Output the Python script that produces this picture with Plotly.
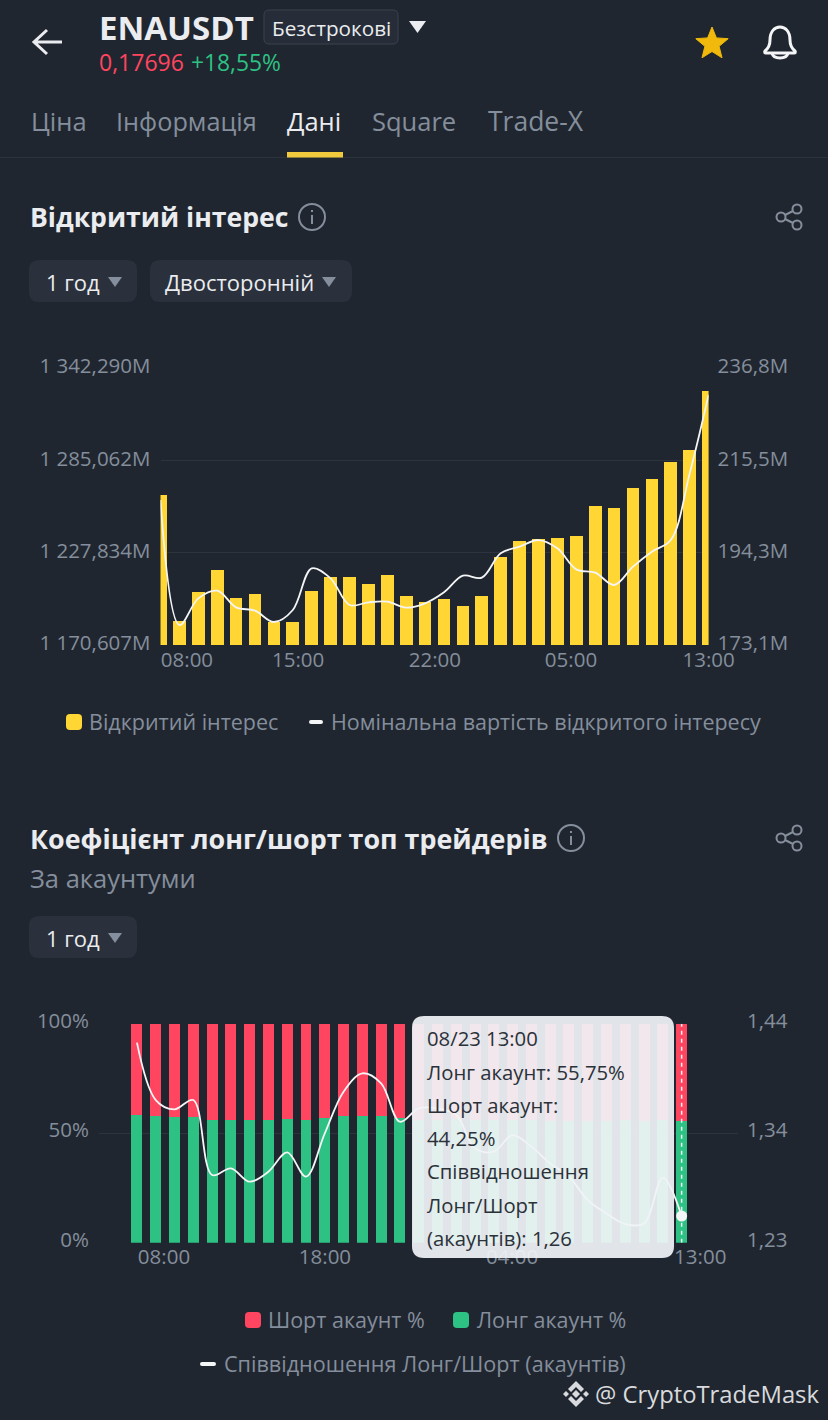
import math
import numpy as np
import plotly.graph_objects as go

BG = '#20262F'
GRID = '#2E343E'
GRAY = '#848E9C'
WHITE = '#EAECEF'
YELLOW = '#FFD633'
RED = '#FF4560'
GREEN = '#2DC184'
FONT = 'Open Sans'

# --- open interest chart
oi_values = [1263.37, 1185.48, 1203.25, 1216.88, 1199.94, 1202.01, 1185.07, 1185.07, 1204.28, 1212.96,
             1212.96, 1208.41, 1213.79, 1200.98, 1197.47, 1198.91, 1194.99, 1201.18, 1225.36, 1234.86,
             1236.31, 1237.13, 1238.37, 1256.76, 1255.31, 1267.71, 1273.29, 1283.82, 1291.68, 1328.04]
oi_notional = [206.44, 177.70, 183.83, 185.59, 181.76, 180.99, 178.39, 181.15, 190.73, 188.43,
               182.30, 182.91, 183.06, 181.68, 182.68, 185.21, 189.04, 188.58, 194.18, 195.71,
               197.24, 195.33, 190.50, 189.73, 186.90, 191.11, 194.56, 197.24, 212.57, 230.59]
oi_left_ticks = [1170.607, 1227.834, 1285.062, 1342.290]
oi_left_labels = ['1 170,607M', '1 227,834M', '1 285,062M', '1 342,290M']
oi_right_ticks = [173.1, 194.3, 215.5, 236.8]
oi_right_labels = ['173,1M', '194,3M', '215,5M', '236,8M']
oi_time_labels = ['08:00', '15:00', '22:00', '05:00', '13:00']

# --- long/short chart
long_pct = [58.3, 57.7, 57.4, 57.5, 56.2, 56.2, 56.2, 56.2, 56.5, 56.2,
            56.9, 57.7, 57.8, 57.8, 57.1, 56.0, 56.2, 56.3, 56.1, 56.0,
            56.0, 55.9, 55.8, 55.8, 55.7, 55.8, 55.9, 55.8, 55.9, 55.75]
short_pct = [41.7, 42.3, 42.6, 42.5, 43.8, 43.8, 43.8, 43.8, 43.5, 43.8,
             43.1, 42.3, 42.2, 42.2, 42.9, 44.0, 43.8, 43.7, 43.9, 44.0,
             44.0, 44.1, 44.2, 44.2, 44.3, 44.2, 44.1, 44.2, 44.1, 44.25]
ls_ratio = [1.4218, 1.3668, 1.3579, 1.3668, 1.2949, 1.3013, 1.2885, 1.2981, 1.3166, 1.2933,
            1.3348, 1.3748, 1.3924, 1.3828, 1.3460, 1.3588, 1.3588, 1.3524, 1.3205, 1.3173,
            1.3332, 1.3221, 1.3061, 1.2933, 1.2709, 1.2581, 1.2479, 1.2485, 1.2923, 1.2556]
ls_left_ticks = [0, 50, 100]
ls_left_labels = ['0%', '50%', '100%']
ls_right_ticks = [1.23, 1.335, 1.44]
ls_right_labels = ['1,23', '1,34', '1,44']
ls_time_labels = ['08:00', '18:00', '04:00', '13:00']

W, H = 828, 1420


def dom_x(a, b):
    return [a / W, b / W]


def dom_y(top, bottom):
    return [1 - bottom / H, 1 - top / H]


fig = go.Figure()
x1 = np.arange(len(oi_values))
x2 = np.arange(len(long_pct))

fig.add_trace(go.Bar(x=x1, y=oi_values, width=0.67, marker=dict(color=YELLOW, line_width=0),
                     xaxis='x', yaxis='y', name='Відкритий інтерес'))
fig.add_trace(go.Scatter(x=x1, y=oi_notional, mode='lines', xaxis='x', yaxis='y4',
                         line=dict(color='#F4F5F6', width=1.8, shape='spline', smoothing=1),
                         name='Номінальна вартість відкритого інтересу'))
fig.add_trace(go.Bar(x=x2, y=long_pct, width=0.585, marker=dict(color=GREEN, line_width=0),
                     xaxis='x2', yaxis='y2', name='Лонг акаунт %'))
fig.add_trace(go.Bar(x=x2, y=short_pct, width=0.585, marker=dict(color=RED, line_width=0),
                     xaxis='x2', yaxis='y2', name='Шорт акаунт %'))
fig.add_trace(go.Scatter(x=x2, y=ls_ratio, mode='lines', xaxis='x2', yaxis='y5',
                         line=dict(color='#F4F5F6', width=1.8, shape='spline', smoothing=1),
                         name='Співвідношення Лонг/Шорт (акаунтів)'))
fig.add_trace(go.Scatter(x=x2[-1:], y=ls_ratio[-1:], mode='markers', xaxis='x2', yaxis='y5',
                         marker=dict(color='#F4F5F6', size=11), showlegend=False))

tick_font = dict(family=FONT, size=20.5, color=GRAY)
left_axis = dict(showline=False, zeroline=False, gridcolor=GRID, gridwidth=1, ticks='',
                 tickfont=tick_font, ticklabelstandoff=9, tickmode='array')
right_axis = dict(side='right', showline=False, zeroline=False, showgrid=False, ticks='',
                  tickfont=tick_font, ticklabelstandoff=8, tickmode='array')
x_axis = dict(showline=False, zeroline=False, showgrid=False, ticks='', tickfont=tick_font,
              ticklabelstandoff=0, tickmode='array')

shapes = []
notes = []


def text(x, y, s, size=20, color=WHITE, anchor='left', bold=False):
    # положение в пикселях картинки
    notes.append(dict(x=x - 1.5, y=y, xref='x3', yref='y3', text=f'<b>{s}</b>' if bold else s, showarrow=False,
                      xanchor=anchor, yanchor='middle', borderpad=0,
                      font=dict(family=FONT, size=size, color=color)))


def path(d, fill='rgba(0,0,0,0)', line=None, width=0):
    shapes.append(dict(type='path', path=d, xref='x3', yref='y3', fillcolor=fill, layer='above',
                       line=dict(color=line or 'rgba(0,0,0,0)', width=width)))


def round_rect(x0, y0, x1, y1, r, fill, line=None, width=0):
    d = (f'M {x0 + r} {y0} L {x1 - r} {y0} Q {x1} {y0} {x1} {y0 + r} L {x1} {y1 - r} Q {x1} {y1} {x1 - r} {y1} '
         f'L {x0 + r} {y1} Q {x0} {y1} {x0} {y1 - r} L {x0} {y0 + r} Q {x0} {y0} {x0 + r} {y0} Z')
    path(d, fill, line, width)


def triangle(x0, x1, y0, y1, fill):
    path(f'M {x0} {y0} L {x1} {y0} L {(x0 + x1) / 2} {y1} Z', fill)


def circle(cx, cy, r, line, width=2):
    shapes.append(dict(type='circle', x0=cx - r, x1=cx + r, y0=cy - r, y1=cy + r, xref='x3', yref='y3',
                       layer='above', line=dict(color=line, width=width)))


def info_icon(cx, cy):
    circle(cx, cy, 13, GRAY)
    path(f'M {cx} {cy - 2} L {cx} {cy + 7}', line=GRAY, width=2)
    path(f'M {cx} {cy - 7} L {cx} {cy - 5}', line=GRAY, width=2)


def share_icon(cx, cy):
    for dx, dy in [(7, -8), (-9, 0), (7, 8)]:
        circle(cx + dx, cy + dy, 4.5, GRAY)
    path(f'M {cx + 3} {cy - 6} L {cx - 5} {cy - 2} M {cx - 5} {cy + 2} L {cx + 3} {cy + 6}', line=GRAY, width=2)


# шапка
path('M 62 42 L 34 42 M 47 30 L 34 42 L 47 54', line=WHITE, width=3)
text(99, 27, 'ENAUSDT', 33, WHITE, bold=True)
round_rect(264, 10, 398, 44, 5, '#262D38', '#3A424E', 1)
text(272, 28, 'Безстрокові', 20.7, WHITE)
triangle(409, 426, 21, 33, WHITE)
text(99, 62, '0,17696', 23, RED)
text(191, 62, '+18,55%', 22.8, GREEN)

star = []
for k in range(10):
    r = 17 if k % 2 == 0 else 7.5
    a = -math.pi / 2 + k * math.pi / 5
    star.append(f'{712 + r * math.cos(a):.1f} {44 + r * math.sin(a):.1f}')
path('M ' + ' L '.join(star) + ' Z', '#F0B90B', '#F0B90B', 1)
path('M 765 51 Q 770 47 770 40 C 770 31 775 27 780 27 C 785 27 790 31 790 40 Q 790 47 795 51 '
     'Q 796 53 794 53 L 766 53 Q 764 53 765 51 Z', line='#F4F5F6', width=3)
path('M 772 53 Q 773 58 780 58 Q 787 58 788 53', line='#F4F5F6', width=3)

# вкладки
tabs = [('Ціна', 31, GRAY, 25.5), ('Інформація', 116, GRAY, 25.3), ('Дані', 287, WHITE, 25.5),
        ('Square', 372, GRAY, 25.5), ('Trade-X', 488, GRAY, 26.5)]
for name, x, col, size in tabs:
    text(x, 121, name, size, col)
path('M 0 157.5 L 828 157.5', line='#2C323C', width=1)
path('M 287 152 L 343 152 L 343 157.5 L 287 157.5 Z', '#F0C93C')

# блок 1
text(30, 217, 'Відкритий інтерес', 26.6, WHITE, bold=True)
info_icon(312, 217)
share_icon(790, 217)
round_rect(29, 260, 137, 302, 10, '#2A313C')
text(46, 281.5, '1 год', 22, WHITE)
triangle(108, 122, 277, 287, GRAY)
round_rect(150, 260, 352, 302, 10, '#2A313C')
text(165, 281.5, 'Двосторонній', 22, WHITE)
triangle(322, 336, 277, 287, GRAY)
round_rect(66, 714, 82, 730, 4, YELLOW)
text(89, 721, 'Відкритий інтерес', 21.5, GRAY)
round_rect(309, 720, 323, 724, 2, '#F4F5F6')
text(331, 721, 'Номінальна вартість відкритого інтересу', 21.5, GRAY)

# блок 2
text(30, 838, 'Коефіцієнт лонг/шорт топ трейдерів', 26.9, WHITE, bold=True)
info_icon(571, 838)
share_icon(790, 838)
text(30, 878, 'За акаунтуми', 25.5, GRAY)
round_rect(29, 916, 137, 958, 10, '#2A313C')
text(46, 937.5, '1 год', 22, WHITE)
triangle(108, 122, 933, 943, GRAY)
round_rect(245, 1312, 261, 1328, 4, RED)
text(268, 1319.5, 'Шорт акаунт %', 21.5, GRAY)
round_rect(453, 1312, 469, 1328, 4, GREEN)
text(477, 1319.5, 'Лонг акаунт %', 21.5, GRAY)
round_rect(200, 1362, 216, 1366, 2, '#F4F5F6')
text(224, 1363, 'Співвідношення Лонг/Шорт (акаунтів)', 21.6, GRAY)

# перекрестие и подсказка
shapes.append(dict(type='line', xref='x2', yref='y2', x0=x2[-1], x1=x2[-1], y0=0, y1=100, layer='above',
                   line=dict(color='#F4F5F6', width=1.5, dash='4px,4px')))
round_rect(412, 1016, 674, 1258, 12, 'rgba(240,243,246,0.93)')
tip_lines = ['08/23 13:00', 'Лонг акаунт: 55,75%', 'Шорт акаунт:', '44,25%', 'Співвідношення', 'Лонг/Шорт',
             '(акаунтів): 1,26']
for s, y in zip(tip_lines, [1038, 1072, 1105, 1138, 1171, 1205, 1238]):
    text(427, y, s, 20.3, '#2B3139')

# водяной знак
text(595, 1394, '@ CryptoTradeMask', 23.8, '#D8DADD')
wm = '#D8DADD'
path('M 576 1381 L 584 1389 L 581 1392 L 576 1387 L 571 1392 L 568 1389 Z', wm)
path('M 576 1407 L 584 1399 L 581 1396 L 576 1401 L 571 1396 L 568 1399 Z', wm)
path('M 576 1390 L 580 1394 L 576 1398 L 572 1394 Z', wm)
path('M 566 1391 L 569 1394 L 566 1397 L 563 1394 Z', wm)
path('M 586 1391 L 589 1394 L 586 1397 L 583 1394 Z', wm)

fig.update_layout(
    width=W, height=H, margin=dict(l=0, r=0, t=0, b=0, pad=0, autoexpand=False),
    paper_bgcolor=BG, plot_bgcolor='rgba(0,0,0,0)', barmode='stack', showlegend=False, hovermode=False,
    font=dict(family=FONT),
    xaxis=dict(x_axis, domain=dom_x(160.5, 708.6), range=[0, 29], anchor='y',
               tickvals=[1.40, 7.28, 14.52, 21.72, 29], ticktext=oi_time_labels),
    yaxis=dict(left_axis, domain=dom_y(368, 645), range=[oi_left_ticks[0], oi_left_ticks[-1]], anchor='x',
               ticklabelshift=-2, tickvals=oi_left_ticks, ticktext=oi_left_labels),
    yaxis4=dict(right_axis, domain=dom_y(368, 645), overlaying='y', anchor='x', ticklabelshift=-2,
                range=[oi_right_ticks[0], oi_right_ticks[-1]], tickvals=oi_right_ticks, ticktext=oi_right_labels),
    xaxis2=dict(x_axis, domain=dom_x(99, 738), range=[-2.02, 32], anchor='y2',
                tickvals=[1.44, 10.01, 19.97, 29.99], ticktext=ls_time_labels),
    yaxis2=dict(left_axis, domain=dom_y(1023.7, 1242.7), range=[0, 100], anchor='x2',
                ticklabelshift=-3, tickvals=ls_left_ticks, ticktext=ls_left_labels),
    yaxis5=dict(right_axis, domain=dom_y(1023.7, 1242.7), overlaying='y2', anchor='x2', ticklabelshift=-3,
                range=[ls_right_ticks[0], ls_right_ticks[-1]], tickvals=ls_right_ticks, ticktext=ls_right_labels),
    xaxis3=dict(domain=[0, 1], range=[0, W], visible=False, anchor='y3', fixedrange=True),
    yaxis3=dict(domain=[0, 1], range=[H, 0], visible=False, anchor='x3', fixedrange=True),
    shapes=shapes, annotations=notes,
)

fig.write_html("out.html", config={'displayModeBar': False},
               post_script="document.body.style.margin='0';document.body.style.overflow='hidden';"
                           f"document.body.style.background='{BG}';")
